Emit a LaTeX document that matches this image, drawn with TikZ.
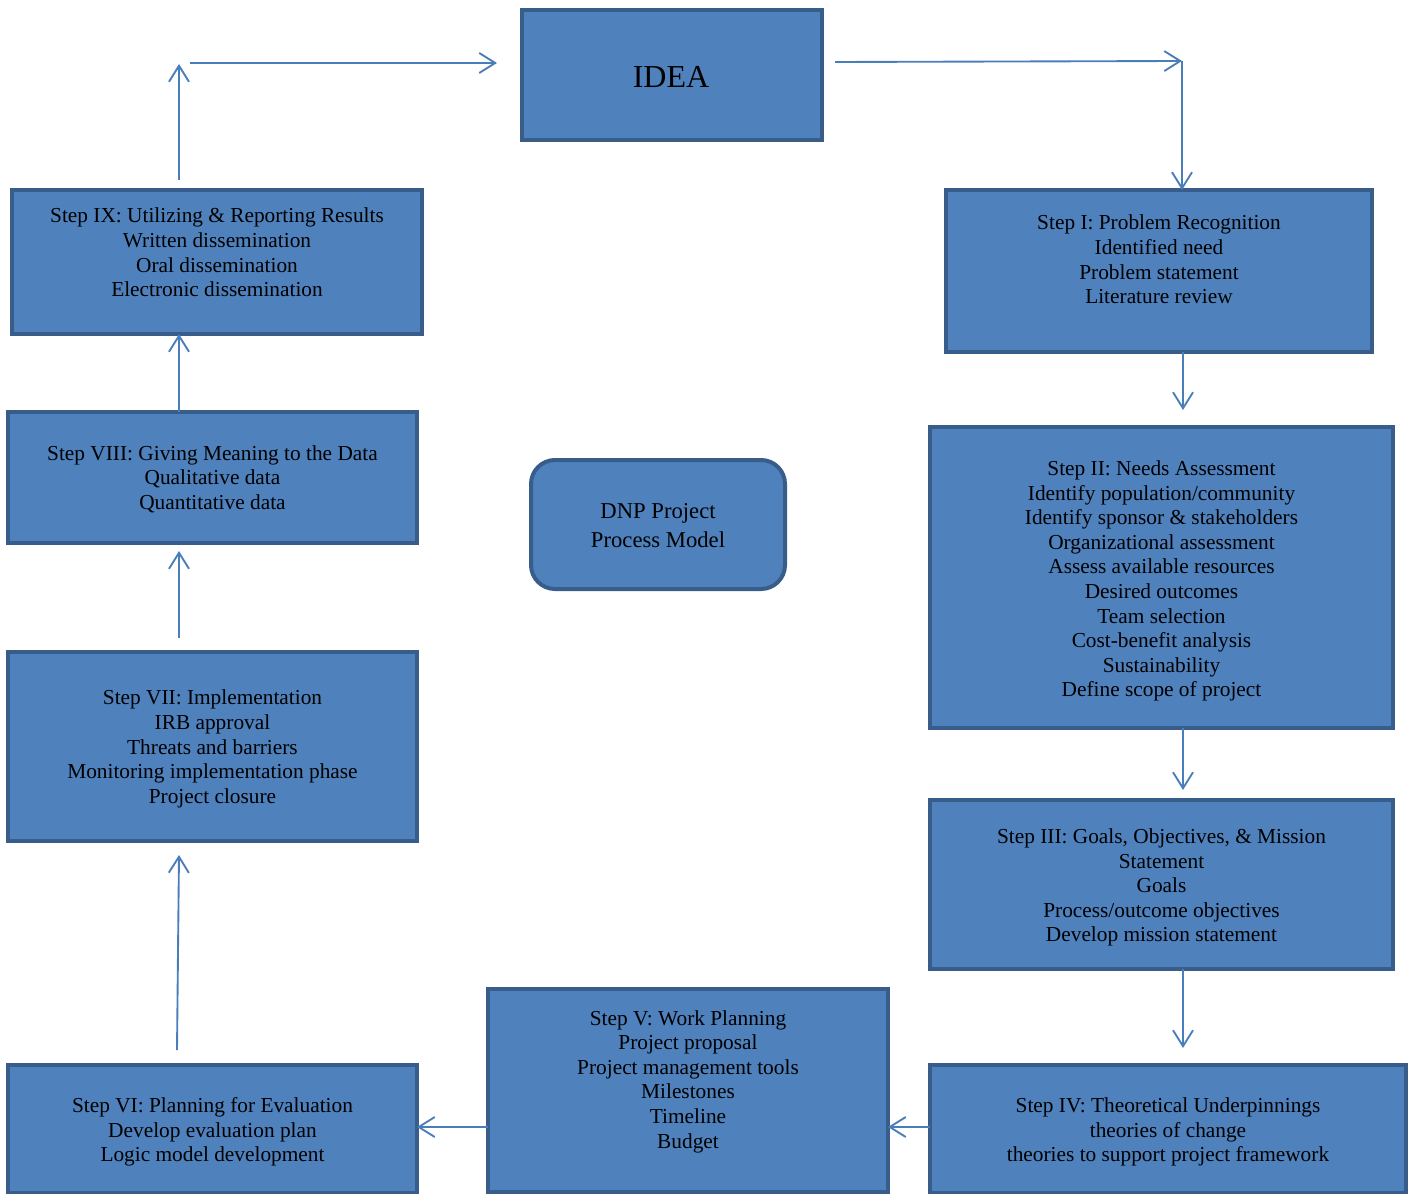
\documentclass[tikz,border=0pt]{standalone}
\usepackage{fontspec}
\setmainfont{Liberation Serif}
\usetikzlibrary{arrows.meta}
\definecolor{boxfill}{HTML}{4F81BD}
\definecolor{boxline}{HTML}{385D8A}
\definecolor{arrowc}{HTML}{4A7EBB}
\begin{document}
\begin{tikzpicture}[x=0.75pt,y=-0.75pt,
  box/.style 2 args={draw=boxline,line width=3pt,fill=boxfill,minimum width=#1*0.75pt,minimum height=#2*0.75pt,inner sep=0pt,outer sep=0pt},
  txt/.style={align=center,font=\fontsize{16}{18.45}\selectfont,inner sep=0pt,text=black},
  conn/.style={draw=arrowc,line width=1.4pt,-{Straight Barb[length=12pt,width=15pt,line width=1.4pt]}}]
\useasboundingbox (0,0) rectangle (1413,1194);
% boxes
\node[box={300}{130}] (idea) at (672,75) {};
\node[box={410}{144}] (s9) at (217,262) {};
\node[box={409}{131}] (s8) at (212.5,477.5) {};
\node[box={409}{189}] (s7) at (212.5,746.5) {};
\node[box={409}{128}] (s6) at (212.5,1129) {};
\node[box={400}{203}] (s5) at (688,1090.5) {};
\node[box={476}{128}] (s4) at (1168,1129) {};
\node[box={463}{169}] (s3) at (1161.5,884.5) {};
\node[box={463}{301}] (s2) at (1161.5,577.5) {};
\node[box={426}{162}] (s1) at (1159,271) {};
\node[box={254}{129},rounded corners=18pt] (dnp) at (658,524.5) {};
% texts
\node[txt,font=\fontsize{24}{27}\selectfont] (tidea) at (671,77) {IDEA};
\node[txt] (t9) at (217,252.5) {Step IX: Utilizing \& Reporting Results\\Written dissemination\\Oral dissemination\\Electronic dissemination};
\node[txt] (t8) at (212.5,479) {Step VIII: Giving Meaning to the Data\\Qualitative data\\Quantitative data};
\node[txt] (t7) at (212.5,749) {Step VII: Implementation\\IRB approval\\Threats and barriers\\Monitoring implementation phase\\Project closure};
\node[txt] (t6) at (212.5,1132) {Step VI: Planning for Evaluation\\Develop evaluation plan\\Logic model development};
\node[txt] (t5) at (688,1081.5) {Step V: Work Planning\\Project proposal\\Project management tools\\Milestones\\Timeline\\Budget};
\node[txt] (t4) at (1168,1132) {Step IV: Theoretical Underpinnings\\theories of change\\theories to support project framework};
\node[txt] (t3) at (1161.5,887.5) {Step III: Goals, Objectives, \& Mission\\Statement\\Goals\\Process/outcome objectives\\Develop mission statement};
\node[txt] (t2) at (1161.5,581) {Step II: Needs Assessment\\Identify population/community\\Identify sponsor \& stakeholders\\Organizational assessment\\Assess available resources\\Desired outcomes\\Team selection\\Cost-benefit analysis\\Sustainability\\Define scope of project};
\node[txt] (t1) at (1159,259.5) {Step I: Problem Recognition\\Identified need\\Problem statement\\Literature review};
\node[txt,font=\fontsize{17}{21.5}\selectfont] (tdnp) at (658,525.5) {DNP Project\\Process Model};
% free-end coordinates
\coordinate (ir0) at (835,62);
\coordinate (ir1) at (1182,61);
\coordinate (il0) at (190,63);
\coordinate (il1) at (497,63);
\coordinate (ltop) at (179,64);
\coordinate (a9) at (179,180);
\coordinate (a8) at (179,638);
\coordinate (a8h) at (179,551);
\coordinate (a6) at (177,1050);
\coordinate (a7h) at (179,855);
\coordinate (a2h) at (1183,410);
\coordinate (a3h) at (1183,790);
\coordinate (a4h) at (1183,1048);
\coordinate (hy) at (0,1127);
% connectors
\draw[conn] (ir0) -- (ir1);
\draw[conn] (ir1) -- (s1.north -| ir1);
\draw[conn] (s1.south -| a2h) -- (a2h);
\draw[conn] (s2.south -| a3h) -- (a3h);
\draw[conn] (s3.south -| a4h) -- (a4h);
\draw[conn] (s4.west |- hy) -- (s5.east |- hy);
\draw[conn] (s5.west |- hy) -- (s6.east |- hy);
\draw[conn] (a6) -- (a7h);
\draw[conn] (a8) -- (a8h);
\draw[conn] (s8.north -| a8) -- (s9.south -| a8);
\draw[conn] (a9) -- (ltop);
\draw[conn] (il0) -- (il1);
\end{tikzpicture}
\end{document}
